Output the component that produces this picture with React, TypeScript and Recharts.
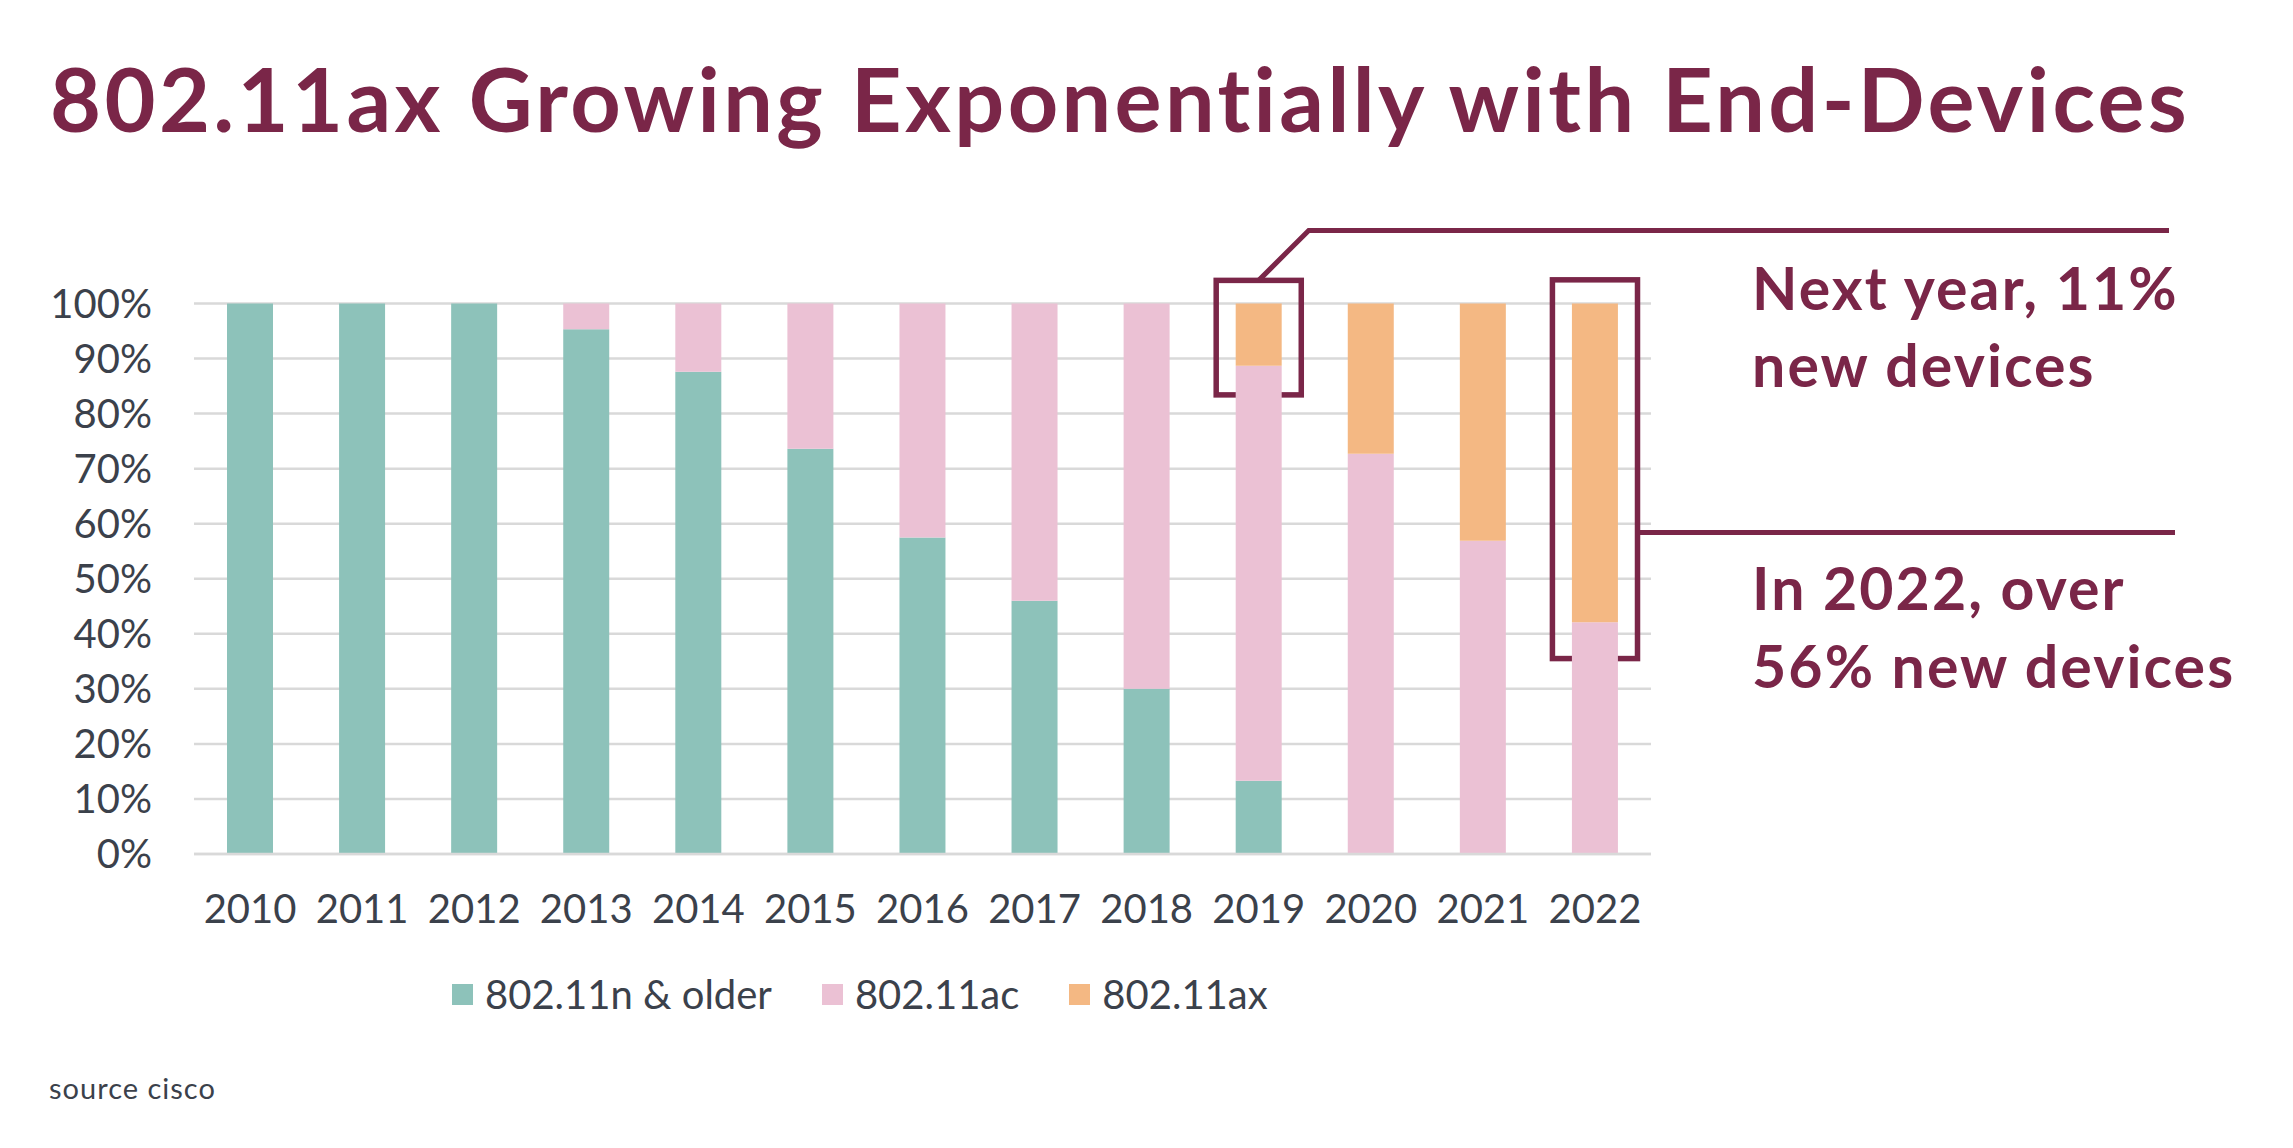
import React from 'react';
import { BarChart, Bar, XAxis, YAxis, CartesianGrid, Legend, ReferenceArea } from 'recharts';

const years = ['2010', '2011', '2012', '2013', '2014', '2015', '2016', '2017', '2018', '2019', '2020', '2021', '2022'];
const olderShare = [100, 100, 100, 95.3, 87.6, 73.6, 57.5, 46, 30, 13.3, 0, 0, 0];
const acShare = [0, 0, 0, 4.7, 12.4, 26.4, 42.5, 54, 70, 75.4, 72.7, 56.9, 42.1];
const axShare = [0, 0, 0, 0, 0, 0, 0, 0, 0, 11.3, 27.3, 43.1, 57.9];
const yTicks = [0, 10, 20, 30, 40, 50, 60, 70, 80, 90, 100];
const seriesNames = ['802.11n & older', '802.11ac', '802.11ax'];

const MAROON = '#7A2648';
const TEXT = '#3B414B';
const FONT = 'Lato, "Open Sans", sans-serif';

const data = years.map((year, i) => ({
    year,
    older: olderShare[i],
    ac: acShare[i],
    ax: axShare[i],
}));

// boxes are a bit narrower than the category band
const INSET = 13.5;

const box2019 = (p: any) => {
    const bx = p.x + INSET;
    const bw = p.width - INSET * 2;
    const cx = bx + bw / 2;
    return (
        <g>
            <rect x={bx} y={p.y} width={bw} height={p.height} fill="none" stroke={MAROON} strokeWidth={5.5} />
            <polyline points={`${cx},${p.y} ${cx + 50},${p.y - 50} 2169,${p.y - 50}`} fill="none" stroke={MAROON} strokeWidth={5} />
        </g>
    );
};

const box2022 = (p: any) => {
    const bx = p.x + INSET;
    const bw = p.width - INSET * 2;
    const ly = p.y + p.height * 0.667;
    return (
        <g>
            <rect x={bx} y={p.y} width={bw} height={p.height} fill="none" stroke={MAROON} strokeWidth={5.5} />
            <line x1={bx + bw} y1={ly} x2={2175} y2={ly} stroke={MAROON} strokeWidth={5} />
        </g>
    );
};

const renderLegend = (props: any) => {
    const payload = [...(props.payload || [])].sort(
        (a: any, b: any) => seriesNames.indexOf(a.value) - seriesNames.indexOf(b.value)
    );
    return (
        <div style={{ display: 'flex', alignItems: 'center', fontFamily: FONT, fontSize: 40, color: TEXT, whiteSpace: 'nowrap' }}>
            {payload.map((entry: any) => (
                <div key={entry.value} style={{ display: 'flex', alignItems: 'center', marginRight: 50 }}>
                    <span style={{ width: 21, height: 21, background: entry.color, marginRight: 12, display: 'inline-block' }} />
                    <span>{entry.value}</span>
                </div>
            ))}
        </div>
    );
};

export default function App() {
    return (
        <div style={{ position: 'absolute', left: 0, top: 0, width: 2293, height: 1148, background: '#fff' }}>
            <BarChart
                width={2293}
                height={1148}
                data={data}
                margin={{ top: 303.5, right: 642, bottom: 186, left: 44 }}
            >
                <CartesianGrid vertical={false} stroke="#D9D9D9" strokeWidth={2.5} />
                <XAxis
                    dataKey="year"
                    height={60}
                    tickLine={false}
                    tickSize={0}
                    tickMargin={41}
                    axisLine={{ stroke: '#D9D9D9', strokeWidth: 2.5 }}
                    tick={{ fill: TEXT, fontSize: 40, fontFamily: FONT }}
                    interval={0}
                />
                <YAxis
                    width={150}
                    domain={[0, 100]}
                    ticks={yTicks}
                    interval={0}
                    tickFormatter={(v: number) => `${v}%`}
                    axisLine={false}
                    tickLine={false}
                    tickSize={0}
                    tickMargin={42}
                    tick={{ fill: TEXT, fontSize: 40, fontFamily: FONT }}
                />
                <Legend
                    content={renderLegend}
                    wrapperStyle={{ position: 'absolute', left: 452, top: 970, width: 'auto', bottom: 'auto' }}
                />
                <Bar dataKey="older" name={seriesNames[0]} stackId="s" fill="#8DC2BA" barSize={46} isAnimationActive={false} />
                <Bar dataKey="ac" name={seriesNames[1]} stackId="s" fill="#EBC1D4" barSize={46} isAnimationActive={false} />
                <Bar dataKey="ax" name={seriesNames[2]} stackId="s" fill="#F4B883" barSize={46} isAnimationActive={false} />
                <ReferenceArea x1="2019" x2="2019" y1={83.4} y2={104.2} ifOverflow="visible" shape={box2019} />
                <ReferenceArea x1="2022" x2="2022" y1={35.5} y2={104.3} ifOverflow="visible" shape={box2022} />
            </BarChart>
            <svg width={2293} height={1148} style={{ position: 'absolute', left: 0, top: 0, pointerEvents: 'none', fontVariantLigatures: 'none' }}>
                <text x={50} y={132} fill={MAROON} fontFamily={FONT} fontWeight={700} fontSize={88} letterSpacing={3.4}>
                    802.11ax Growing Exponentially with End-Devices
                </text>
                <g fill={MAROON} fontFamily={FONT} fontWeight={700} fontSize={59} letterSpacing={2.1}>
                    <text x={1752} y={310}>Next year, 11%</text>
                    <text x={1752} y={387}>new devices</text>
                    <text x={1752} y={610}>In 2022, over</text>
                    <text x={1752} y={688}>56% new devices</text>
                </g>
                <text x={49} y={1099} fill={TEXT} fontFamily={FONT} fontSize={29} letterSpacing={1}>source cisco</text>
            </svg>
        </div>
    );
}
